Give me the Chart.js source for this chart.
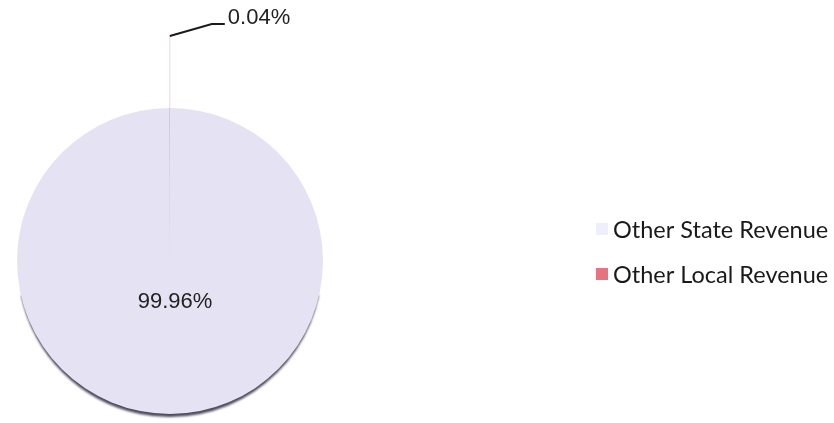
<!DOCTYPE html>
<html>
<head>
<meta charset="utf-8">
<script src="https://cdn.jsdelivr.net/npm/chart.js@4.4.1/dist/chart.umd.min.js"></script>
<style>
    html, body { margin: 0; padding: 0; background: #fff; }
    #wrap { width: 834px; height: 423px; position: relative; }
</style>
</head>
<body>
<div id="wrap"><canvas id="revenueChart"></canvas></div>
<script>
var categories = ['Other State Revenue', 'Other Local Revenue'];
var shares = [99.96, 0.04];
var sliceColors = ['#e5e3f3', '#e6737f'];
var legendColors = ['#efeffa', '#e6737f'];

// dark rim under the lower part of the pie, like the original's bevel
var pieShadow = {
    id: 'pieShadow',
    beforeDatasetsDraw: function(chart) {
        var arc = chart.getDatasetMeta(0).data[0];
        var ctx = chart.ctx;
        ctx.save();
        ctx.filter = 'blur(0.8px)';
        ctx.fillStyle = '#4b4b5c';
        ctx.beginPath();
        ctx.arc(arc.x, arc.y + 4, arc.outerRadius - 1, 0.2, Math.PI - 0.2);
        ctx.closePath();
        ctx.fill();
        ctx.restore();
    }
};

var sliceLabels = {
    id: 'sliceLabels',
    afterDraw: function(chart) {
        var ctx = chart.ctx;
        var arcs = chart.getDatasetMeta(0).data;
        ctx.save();
        ctx.font = '22px "Liberation Sans", Arial, sans-serif';
        ctx.fillStyle = '#222';
        ctx.textBaseline = 'middle';

        // big slice: label inside
        var big = arcs[0];
        var mid = (big.startAngle + big.endAngle) / 2;
        ctx.textAlign = 'center';
        ctx.fillText(shares[0].toFixed(2) + '%',
            big.x + Math.cos(mid) * big.outerRadius * 0.27 + 5,
            big.y + Math.sin(mid) * big.outerRadius * 0.27);

        // tiny slice: label outside with leader
        var small = arcs[1];
        var m2 = (small.startAngle + small.endAngle) / 2;
        var ex = small.x + Math.cos(m2) * small.outerRadius;
        var ey = small.y + Math.sin(m2) * small.outerRadius;
        var kx = ex, ky = ey - 72;

        ctx.strokeStyle = 'rgba(230, 115, 127, 0.3)';
        ctx.lineWidth = 1;
        ctx.beginPath();
        ctx.moveTo(kx, ey);
        ctx.lineTo(kx, ky);
        ctx.stroke();

        ctx.strokeStyle = '#1a1a1a';
        ctx.lineWidth = 2;
        ctx.beginPath();
        ctx.moveTo(kx, ky);
        ctx.lineTo(kx + 42, ky - 12);
        ctx.lineTo(kx + 55, ky - 12);
        ctx.stroke();

        ctx.textAlign = 'left';
        ctx.fillText(shares[1].toFixed(2) + '%', kx + 58, ky - 18);

        // legend on the right
        ctx.font = '23.5px Lato, "Open Sans", sans-serif';
        var rows = [229, 274];
        for (var i = 0; i < categories.length; i++) {
            ctx.fillStyle = legendColors[i];
            ctx.fillRect(596, rows[i] - 6, 12, 12);
            ctx.fillStyle = '#1a1a1a';
            ctx.fillText(categories[i], 613, rows[i] + 1);
        }
        ctx.restore();
    }
};

var ctxRevenue = document.getElementById('revenueChart').getContext('2d');
var revenueChart = new Chart(ctxRevenue, {
    type: 'pie',
    data: {
        labels: categories,
        datasets: [{
            data: shares,
            backgroundColor: sliceColors,
            borderWidth: 0
        }]
    },
    options: {
        responsive: true,
        maintainAspectRatio: false,
        animation: false,
        layout: {
            padding: { left: 15, top: 108, right: 509, bottom: 9 }
        },
        plugins: {
            legend: { display: false },
            tooltip: { enabled: false }
        }
    },
    plugins: [pieShadow, sliceLabels]
});
</script>
</body>
</html>
